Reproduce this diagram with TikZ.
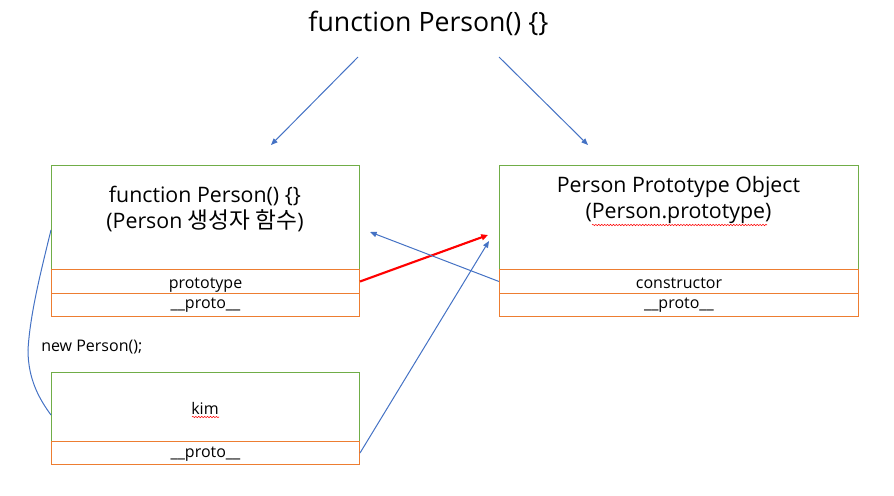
\documentclass[tikz,border=0pt]{standalone}
\usepackage{fontspec}
\setmainfont{Open Sans}
\newfontfamily\kr{Noto Sans CJK KR}
\usetikzlibrary{arrows.meta,decorations.pathmorphing}
\definecolor{pgreen}{HTML}{70AD47}
\definecolor{porange}{HTML}{ED7D31}
\definecolor{pblue}{HTML}{4472C4}
\definecolor{pred}{HTML}{FF0000}
\begin{document}
\begin{tikzpicture}[x=0.75pt,y=-0.75pt,
  topbox/.style={draw=pgreen, line width=0.75pt, inner sep=0pt, anchor=north west, minimum width=#1},
  rowbox/.style={draw=porange, line width=0.75pt, inner sep=0pt, anchor=north west, minimum width=#1,
    font=\fontsize{12}{14}\selectfont},
  lowtext/.style={text height=14pt, text depth=3pt},
  bigtext/.style={align=center, font=\fontsize{16}{19.5}\selectfont, inner sep=0pt},
  bluearrow/.style={draw=pblue, line width=0.75pt, -{Triangle[length=5pt,width=4pt]}},
  redarrow/.style={draw=pred, line width=1.6pt, -{Triangle[length=5pt,width=4.5pt]}},
  wavy/.style={draw=pred, line width=0.4pt, decorate, decoration={snake, amplitude=0.5pt, segment length=2.2pt}}
]
\useasboundingbox (0,0) rectangle (894,496);

% title
\node[font=\fontsize{20}{24}\selectfont, inner sep=0pt] (title) at (428.5,23) {function Person() \{\}};

% left constructor box
\node[topbox=231pt, minimum height=78pt] (ltop) at (51,165) {};
\node[rowbox=231pt, minimum height=18pt, lowtext] (lproto) at (51,269) {prototype};
\node[rowbox=231pt, minimum height=17.25pt] (lpp) at (51,293) {\_\_proto\_\_};
\node[bigtext] (ltext) at (205,209) {function Person() \{\}\\(Person {\kr\fontsize{17}{19.5}\selectfont 생성자 함수})};

% kim box
\node[topbox=231pt, minimum height=51.75pt] (kim) at (51,372) {};
\node[rowbox=231pt, minimum height=17.25pt, text height=10pt, text depth=3pt] (kpp) at (51,441) {\_\_proto\_\_};
\node[font=\fontsize{12}{14}\selectfont, inner sep=0pt] (kimtext) at (205,408) {kim};

% right prototype box
\node[topbox=269.25pt, minimum height=78pt] (rtop) at (499,165) {};
\node[rowbox=269.25pt, minimum height=18pt, lowtext] (rcons) at (499,269) {constructor};
\node[rowbox=269.25pt, minimum height=17.25pt] (rpp) at (499,293) {\_\_proto\_\_};
\node[bigtext, font=\fontsize{16}{20}\selectfont] (rtext) at (678.5,200) {Person Prototype Object\\(Person.prototype)};

% new Person(); label
\node[font=\fontsize{12}{14}\selectfont, inner sep=0pt, anchor=west] (newlbl) at (41,347) {new Person();};

% spell-check underlines
\draw[wavy] (592,225) -- (767,225);
\draw[wavy] (192,417) -- (219,417);

% coordinates for connector ends
\coordinate (t1) at (358,57);
\coordinate (t2) at (499,57);
\coordinate (e1) at (271,145);
\coordinate (e2) at (588,145);
\coordinate (redend) at (488,235);
\coordinate (consend) at (370,232);
\coordinate (kimend) at (489,241);
\coordinate (cstart) at (51,230);
\coordinate (cmid) at (28,350);
\coordinate (cend) at (51,415);

% connectors
\draw[bluearrow] (t1) -- (e1);
\draw[bluearrow] (t2) -- (e2);
\draw[redarrow] (lproto.east) -- (redend);
\draw[bluearrow] (rcons.west) -- (consend);
\draw[bluearrow] (kpp.east) -- (kimend);
\draw[pblue, line width=0.75pt] (cstart) .. controls (40,275) and (30,315) .. (cmid)
  .. controls (28,380) and (40,400) .. (cend);
\end{tikzpicture}
\end{document}
